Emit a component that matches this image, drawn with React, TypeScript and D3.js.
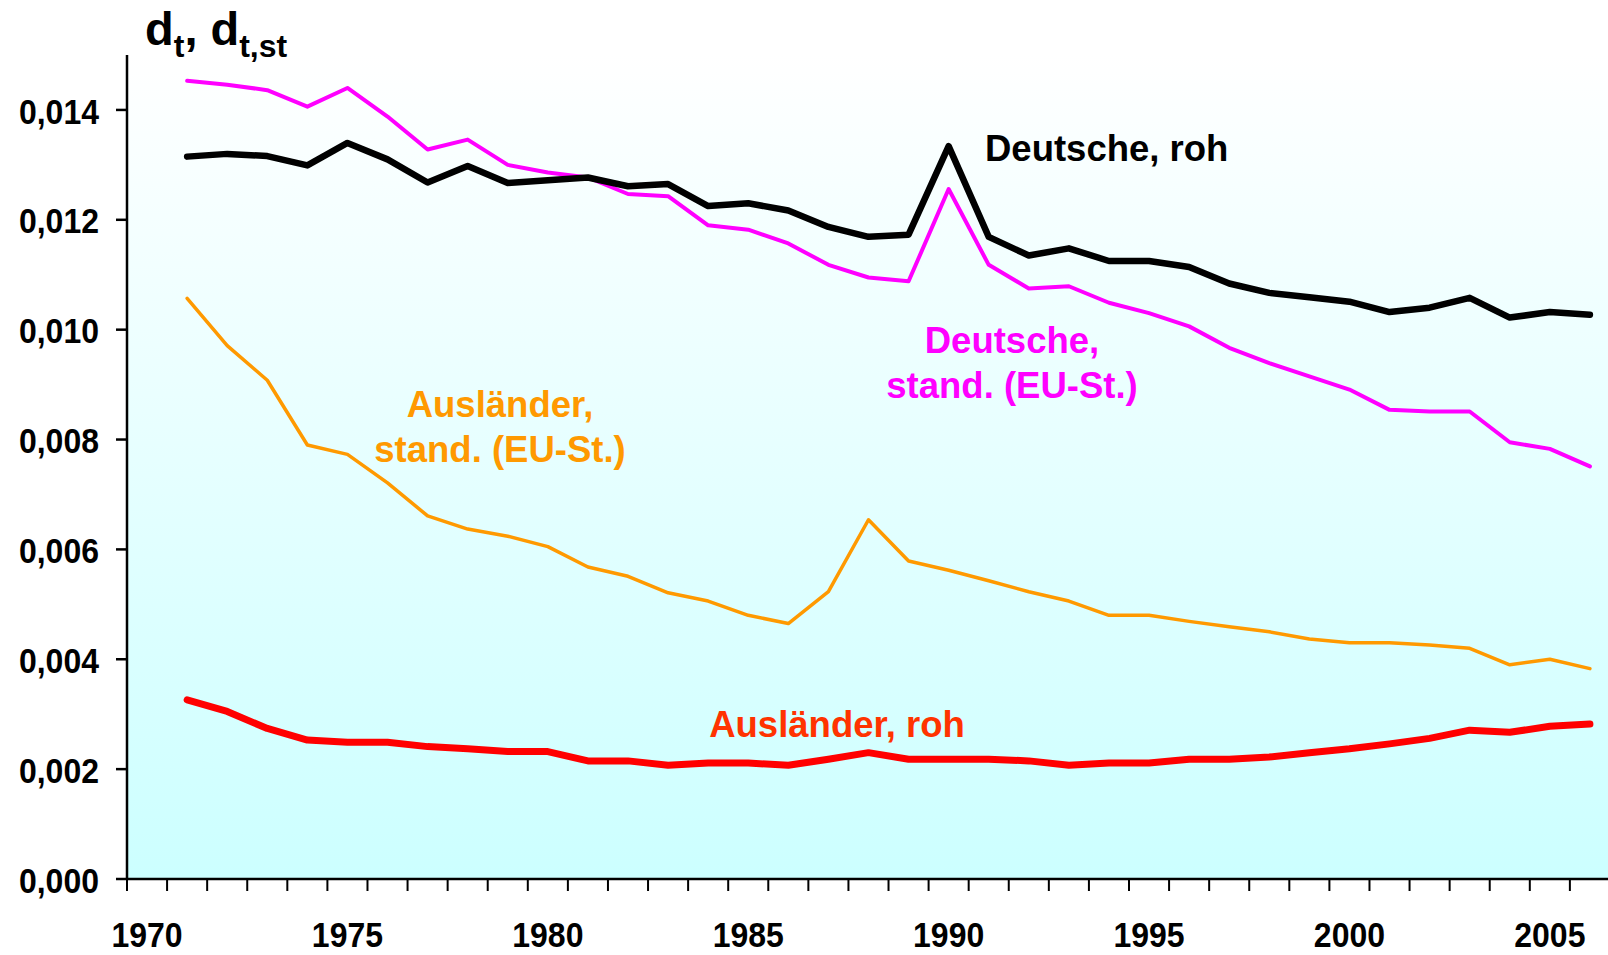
import { useEffect } from "react";
import * as d3 from "d3";

// categories on the x axis (first band 1970 has no data)
const years = [
  1970, 1971, 1972, 1973, 1974, 1975, 1976, 1977, 1978, 1979, 1980, 1981, 1982,
  1983, 1984, 1985, 1986, 1987, 1988, 1989, 1990, 1991, 1992, 1993, 1994, 1995,
  1996, 1997, 1998, 1999, 2000, 2001, 2002, 2003, 2004, 2005, 2006,
];
const dataYears = years.slice(1);
const xTickLabels = [1970, 1975, 1980, 1985, 1990, 1995, 2000, 2005];
const yTicks = [0, 0.002, 0.004, 0.006, 0.008, 0.01, 0.012, 0.014];

const deutscheRoh = [
  0.01315, 0.0132, 0.01316, 0.01299, 0.0134, 0.0131, 0.01268, 0.01298, 0.01267,
  0.01272, 0.01277, 0.01261, 0.01265, 0.01225, 0.0123, 0.01217, 0.01187, 0.01169,
  0.01173, 0.01334, 0.01169, 0.01135, 0.01148, 0.01125, 0.01125, 0.01114, 0.01084,
  0.01067, 0.01059, 0.01051, 0.01032, 0.0104, 0.01058, 0.01022, 0.01032, 0.01027,
];
const deutscheStand = [
  0.01453, 0.01446, 0.01436, 0.01406, 0.0144, 0.01388, 0.01328, 0.01346, 0.013,
  0.01286, 0.01277, 0.01247, 0.01243, 0.0119, 0.01182, 0.01157, 0.01118, 0.01095,
  0.01088, 0.01256, 0.01118, 0.01075, 0.01079, 0.01049, 0.0103, 0.01006, 0.00967,
  0.00939, 0.00915, 0.00891, 0.00854, 0.00851, 0.00851, 0.00795, 0.00783, 0.00751,
];
const auslaenderStand = [
  0.01057, 0.00971, 0.00908, 0.0079, 0.00773, 0.00721, 0.00661, 0.00637, 0.00624,
  0.00605, 0.00568, 0.00551, 0.00521, 0.00506, 0.0048, 0.00465, 0.00523, 0.00654,
  0.00579, 0.00562, 0.00543, 0.00523, 0.00506, 0.0048, 0.0048, 0.00469, 0.00459,
  0.0045, 0.00437, 0.0043, 0.0043, 0.00426, 0.0042, 0.0039, 0.004, 0.00383,
];
const auslaenderRoh = [
  0.00326, 0.00305, 0.00274, 0.00253, 0.00249, 0.00249, 0.00241, 0.00237, 0.00232,
  0.00232, 0.00215, 0.00215, 0.00207, 0.00211, 0.00211, 0.00207, 0.00218, 0.0023,
  0.00218, 0.00218, 0.00218, 0.00215, 0.00207, 0.00211, 0.00211, 0.00218, 0.00218,
  0.00222, 0.0023, 0.00237, 0.00246, 0.00256, 0.00271, 0.00267, 0.00278, 0.00282,
];

const series = [
  { name: "Ausländer, stand.", values: auslaenderStand, color: "#FF9900", width: 3.5 },
  { name: "Ausländer, roh", values: auslaenderRoh, color: "#FF0000", width: 7 },
  { name: "Deutsche, stand.", values: deutscheStand, color: "#FF00FF", width: 4 },
  { name: "Deutsche, roh", values: deutscheRoh, color: "#000000", width: 6.5 },
];

const font = "'Liberation Sans', Arial, Helvetica, sans-serif";

function App() {
  useEffect(() => {
    document.body.style.margin = "0";
  }, []);

  const width = 1608;
  const height = 955;
  const left = 127;
  const top = 55;
  const bottom = 879;

  const x = d3
    .scaleBand<number>()
    .domain(years)
    .range([left, left + years.length * 40.08])
    .padding(0);
  const xc = (yr: number) => (x(yr) as number) + x.bandwidth() / 2;
  const y = d3.scaleLinear().domain([0, 0.015]).range([bottom, top]);

  const line = d3
    .line<number>()
    .x((_, i) => xc(dataYears[i]))
    .y((d) => y(d));

  const fmt = (v: number) => d3.format(".3f")(v).replace(".", ",");
  const tickEdges = years.map((yr) => x(yr) as number);

  return (
    <svg
      width={width}
      height={height}
      style={{ display: "block", fontFamily: font, fontWeight: "bold" }}
    >
      <defs>
        <linearGradient id="bg" x1="0" y1="0" x2="0" y2="1">
          <stop offset="0%" stopColor="#FFFFFF" />
          <stop offset="100%" stopColor="#CCFFFF" />
        </linearGradient>
      </defs>
      <rect x={0} y={0} width={width} height={height} fill="#FFFFFF" />
      <rect x={left} y={top} width={width - left} height={bottom - top} fill="url(#bg)" />

      {/* title */}
      <text x={145} y={45} fontSize={47} fill="#000">
        d<tspan fontSize={32} dy={12}>t</tspan>
        <tspan dy={-12}>, d</tspan>
        <tspan fontSize={32} dy={12}>t,st</tspan>
      </text>

      {/* lines */}
      {series.map((s) => (
        <path
          key={s.name}
          d={line(s.values) as string}
          fill="none"
          stroke={s.color}
          strokeWidth={s.width}
          strokeLinejoin="round"
          strokeLinecap="round"
        />
      ))}

      {/* y axis */}
      <line x1={left} x2={left} y1={top} y2={bottom} stroke="#000" strokeWidth={2.5} />
      {yTicks.map((t) => (
        <g key={t}>
          <line x1={left - 11} x2={left} y1={y(t)} y2={y(t)} stroke="#000" strokeWidth={2.5} />
          <text
            transform={`translate(99,${y(t) + 1}) scale(1,1.12)`}
            textAnchor="end"
            dominantBaseline="central"
            fontSize={32}
          >
            {fmt(t)}
          </text>
        </g>
      ))}

      {/* x axis */}
      <line x1={left} x2={width} y1={bottom} y2={bottom} stroke="#000" strokeWidth={2.5} />
      {tickEdges.map((tx, i) => (
        <line key={i} x1={tx} x2={tx} y1={bottom} y2={bottom + 12} stroke="#000" strokeWidth={2} />
      ))}
      {xTickLabels.map((yr) => (
        <text
          key={yr}
          transform={`translate(${xc(yr)},935) scale(1,1.1)`}
          textAnchor="middle"
          dominantBaseline="central"
          fontSize={32}
        >
          {yr}
        </text>
      ))}

      {/* series labels */}
      <text x={985} y={161} fontSize={36.5} fill="#000">
        Deutsche, roh
      </text>
      <text x={1012} y={353} fontSize={36.5} fill="#FF00FF" textAnchor="middle">
        Deutsche,
      </text>
      <text x={1012} y={398} fontSize={36.5} fill="#FF00FF" textAnchor="middle">
        stand. (EU-St.)
      </text>
      <text x={500} y={417} fontSize={36.5} fill="#FF9900" textAnchor="middle">
        Ausländer,
      </text>
      <text x={500} y={462} fontSize={36.5} fill="#FF9900" textAnchor="middle">
        stand. (EU-St.)
      </text>
      <text x={837} y={737} fontSize={36.5} fill="#FF3300" textAnchor="middle">
        Ausländer, roh
      </text>
    </svg>
  );
}

export default App;
